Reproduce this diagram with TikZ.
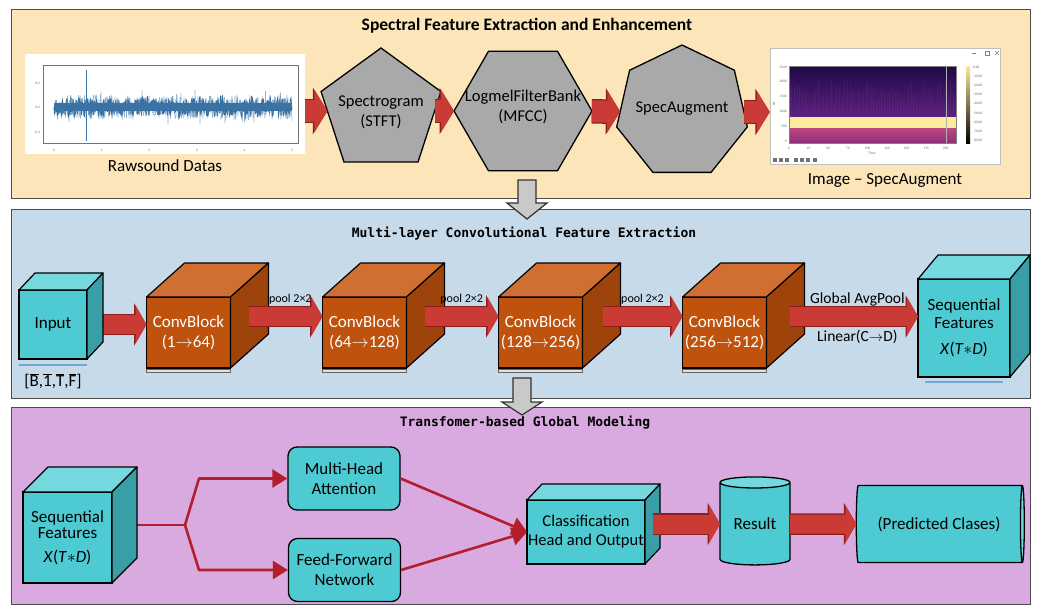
\documentclass[tikz,border=0pt]{standalone}
\usepackage{fontspec}
\setmainfont{Carlito}
\newfontfamily\monofont{DejaVu Sans Mono}
\usetikzlibrary{shapes.geometric,arrows.meta,positioning,calc}

\definecolor{panelA}{HTML}{FBE5B9}
\definecolor{panelB}{HTML}{C6DAE9}
\definecolor{panelC}{HTML}{D9AADF}
\definecolor{polygray}{HTML}{A9A9A9}
\definecolor{cyanF}{HTML}{4ECAD3}
\definecolor{cyanT}{HTML}{76D8DF}
\definecolor{cyanS}{HTML}{3A9EA7}
\definecolor{orangeF}{HTML}{BF520D}
\definecolor{orangeT}{HTML}{D06F31}
\definecolor{orangeS}{HTML}{9E440B}
\definecolor{fatred}{HTML}{C93B34}
\definecolor{fatredD}{HTML}{8F1D1D}
\definecolor{linered}{HTML}{B31E2C}
\definecolor{wavecol}{HTML}{3A72A4}
\definecolor{wavelight}{HTML}{8FB4D4}
\definecolor{lineblue}{HTML}{6FA8D6}
\definecolor{downgray}{HTML}{C9C9C9}
\definecolor{specTop}{HTML}{1E0A45}
\definecolor{specMid}{HTML}{5E2082}
\definecolor{specYellow}{HTML}{FCEB9D}
\definecolor{specLowA}{HTML}{BC4884}
\definecolor{specLowB}{HTML}{8E2E77}

% side and top faces of a box drawn behind a front-face node
\newcommand{\boxdepth}[5]{%
  \draw[line width=1.2pt, fill=#4, line join=round] (#1.north west) -- ++(#2,-#3) -- ($(#1.north east)+(#2,-#3)$) -- (#1.north east) -- cycle;
  \draw[line width=1.2pt, fill=#5, line join=round] (#1.north east) -- ++(#2,-#3) -- ($(#1.south east)+(#2,-#3)$) -- (#1.south east) -- cycle;
}
\newcommand{\ovl}[1]{$\overline{\mbox{#1}}$}

\begin{document}
\begin{tikzpicture}[x=1pt, y=-1pt,
    every node/.style={align=center},
    panel/.style={draw=black!70, line width=1pt, inner sep=0pt, outer sep=0pt},
    maintitle/.style={font=\bfseries\fontsize{17.5}{19}\selectfont, inner sep=0pt},
    paneltitle/.style={font=\monofont\bfseries\fontsize{13}{15}\selectfont, inner sep=0pt},
    nodetext/.style={font=\fontsize{17}{20}\selectfont, inner sep=0pt},
    poly/.style={regular polygon, draw, line width=1.3pt, fill=polygray, inner sep=0pt, outer sep=0pt},
    polytext/.style={font=\fontsize{16.5}{20}\selectfont, inner sep=0pt, align=center},
    cubeface/.style={draw, line width=1.2pt, inner sep=0pt, outer sep=0pt, fill=cyanF, font=\fontsize{17}{20}\selectfont},
    convface/.style={cubeface, fill=orangeF, text=white, minimum width=84, minimum height=71},
    softbox/.style={draw, line width=1.3pt, rounded corners=9pt, fill=cyanF, minimum width=112, minimum height=63, inner sep=0pt, font=\fontsize{17}{20}\selectfont},
    cyl/.style={cylinder, draw, line width=1.3pt, cylinder uses custom fill, cylinder body fill=cyanF, cylinder end fill=cyanT, inner sep=0pt, outer sep=0pt, font=\fontsize{17}{20}\selectfont},
    fatarrowA/.style={draw=fatred, line width=22pt, -{Triangle[length=13pt,width=42pt]},
      preaction={draw=fatredD, line width=24.5pt, -{Triangle[length=14.5pt,width=46pt]}}},
    fatarrowB/.style={draw=fatred, line width=19pt, -{Triangle[length=11pt,width=38pt]},
      preaction={draw=fatredD, line width=21.5pt, -{Triangle[length=12.5pt,width=42pt]}}},
    poollbl/.style={font=\fontsize{12}{14}\selectfont, inner sep=1pt},
    arrowlbl/.style={font=\fontsize{15.5}{17}\selectfont, inner sep=1pt},
    thinred/.style={draw=linered, line width=2.6pt, line join=round},
    redtip/.style={-{Triangle[length=15pt,width=18pt]}},
    underline/.style={draw=lineblue, line width=1.3pt},
    downarrow/.style={draw=black!80, line width=1.2pt, fill=downgray},
    tinytxt/.style={font=\fontsize{3.5}{4}\selectfont, inner sep=0pt, text=black!60}
  ]
\useasboundingbox (0,0) rectangle (1038,613);
\fill[white] (0,0) rectangle (1038,613);

% panels
\node[panel, fill=panelA, minimum width=1019, minimum height=189] (p1) at (520.5,103.5) {};
\node[panel, fill=panelB, minimum width=1019, minimum height=189] (p2) at (520.5,303.5) {};
\node[panel, fill=panelC, minimum width=1019, minimum height=197] (p3) at (520.5,505.5) {};
\node[maintitle] (t1) at (527,26) {Spectral Feature Extraction and Enhancement};
\node[paneltitle] (t2) at (524,234) {Multi-layer Convolutional Feature Extraction};
\node[paneltitle] (t3) at (525,423) {Transfomer-based Global Modeling};

% raw waveform plot
\node[fill=white, minimum width=280, minimum height=100, inner sep=0pt] (wave) at (165,104) {};
\draw[black!55, line width=0.4pt] (43,65) rectangle (298,143);
\pgfmathsetseed{11}
\draw[wavelight, line width=0.6pt] (54,107) \foreach \i in {1,...,476}{ -- ({54+\i*0.5},{107+rand*(12+6*(rand>0.75))}) };
\fill[wavecol] (54,103) rectangle (292,111);
\draw[wavecol, line width=0.9pt] (54,107) \foreach \i in {1,...,476}{ -- ({54+\i*0.5},{107+rand*(9+3*(rand>0.6))}) };
\draw[wavecol, line width=0.9pt] (86,70) -- (86,141);
\foreach \k in {0,...,5} \node[tinytxt] at ({54+\k*47.6},150) {\k};
\node[tinytxt, anchor=east] at (40,83) {0.2};
\node[tinytxt, anchor=east] at (40,107) {0.0};
\node[tinytxt, anchor=east] at (40,132) {-0.2};
\node[nodetext, below=5pt of wave] (wavelbl) {Rawsound Datas};

% feature stages
\node[poly, regular polygon sides=5, minimum size=126,
  label={[polytext, yshift=-1pt]center:{Spectrogram\\(STFT)}}] (stft) at (381,111) {};
\node[poly, regular polygon sides=6, minimum size=138,
  label={[polytext, yshift=4pt]center:{LogmelFilterBank\\(MFCC)}}] (mfcc) at (523,111) {};
\node[poly, regular polygon sides=7, minimum size=134,
  label={[polytext, yshift=3pt]center:{SpecAugment}}] (specaug) at (682,112) {};

% spectrogram screenshot
\node[fill=white, draw=black!25, line width=0.5pt, minimum width=230, minimum height=116, inner sep=0pt] (augimg) at (885,106) {};
\draw[black!50, line width=0.4pt] (972,53) -- (976,53);
\draw[black!50, line width=0.4pt] (985,51) rectangle (989,55);
\draw[black!50, line width=0.4pt] (995,51) -- (999,55) (995,55) -- (999,51);
\shade[top color=specTop, bottom color=specMid] (789,66) rectangle (956,117);
\foreach \k in {1,...,62} \draw[specMid!85!white, line width=0.7pt, opacity=0.18] ({789+\k*2.65},{92+rand*14}) -- ({789+\k*2.65},117);
\fill[specYellow] (789,117) rectangle (956,128);
\shade[top color=specLowA, bottom color=specLowB] (789,128) rectangle (956,143);
\draw[black!30, line width=1pt] (946,66) -- (946,143);
\draw[black!50, line width=0.3pt] (789,66) rectangle (956,143);
\shade[top color=specYellow, middle color=specLowA, bottom color=black] (966,66) rectangle (970,143);
\foreach \lbl [count=\n from 0] in {2500,2000,1500,1000,500,0}
  \node[tinytxt, anchor=east] at (787,{67+\n*14.8}) {\lbl};
\foreach \lbl [count=\n from 0] in {0,25,50,75,100,125,150,175,200}
  \node[tinytxt] at ({789+\n*19.6},148) {\lbl};
\foreach \lbl [count=\n from 0] in {0.00,-10.00,-20.00,-30.00,-40.00,-50.00,-60.00,-70.00,-80.00}
  \node[tinytxt, anchor=west] at (973,{67+\n*9.2}) {\lbl};
\node[tinytxt] at (872,153) {Time};
\node[tinytxt, rotate=90] at (774,104) {Hz};
\foreach \tx in {775,781,787,796,802,808,815} \fill[black!55] (\tx-2,158) rectangle (\tx+2,162);
\node[nodetext, below=9pt of augimg] (auglbl) {Image -- SpecAugment};

\draw[fatarrowA] (wave.east |- stft) -- (stft);
\draw[fatarrowA] (stft) -- (mfcc);
\draw[fatarrowA] (mfcc) -- (specaug);
\draw[fatarrowA] (specaug) -- (augimg.west |- specaug);

% convolutional stack
\node[cubeface, minimum width=68, minimum height=69] (input) at (53,324.5) {Input};
\node[convface] (cb1) at (188.5,332.5) {ConvBlock\\(1$\to$64)};
\node[convface, right=92pt of cb1] (cb2) {ConvBlock\\(64$\to$128)};
\node[convface, right=92pt of cb2] (cb3) {ConvBlock\\(128$\to$256)};
\node[convface, right=100pt of cb3] (cb4) {ConvBlock\\(256$\to$512)};
\node[cubeface, minimum width=92, minimum height=98, font=\fontsize{17}{18}\selectfont] (seqA) at (964,328)
  {Sequential\\Features\\[8pt]\textit{X}(\textit{T}$\ast$\textit{D})};

\draw[fatarrowB] (input.east) -- (input.east -| cb1.west);
\boxdepth{input}{16}{17}{cyanT}{cyanS}
\foreach \c in {cb1,cb2,cb3,cb4}{
  \boxdepth{\c}{38}{34}{orangeT}{orangeS}
  \draw[black!60, line width=0.6pt, fill=black!12] ([yshift=-1pt]\c.south west) rectangle ([yshift=-4pt]\c.south east);
}
\boxdepth{seqA}{20}{24}{cyanT}{cyanS}

\draw[fatarrowB, shorten <=18pt] ([yshift=16pt]cb1.east) -- node[poollbl, pos=0.65, above=2pt] {pool 2×2} ([yshift=16pt]cb2.west);
\draw[fatarrowB, shorten <=18pt] ([yshift=16pt]cb2.east) -- node[poollbl, pos=0.6, above=2pt] {pool 2×2} ([yshift=16pt]cb3.west);
\draw[fatarrowB, shorten <=20pt] ([yshift=16pt]cb3.east) -- node[poollbl, pos=0.6, above=2pt] {pool 2×2} ([yshift=16pt]cb4.west);
\draw[fatarrowB, shorten <=23pt] ([yshift=16pt]cb4.east) --
  node[arrowlbl, pos=0.6, above=0pt] {Global AvgPool}
  node[arrowlbl, pos=0.6, below=3pt] {Linear(C$\to$D)} ([yshift=16pt]cb4.east -| seqA.west);

\draw[underline] ([yshift=-6pt]input.south west) -- ([yshift=-6pt]input.south east);
\node[nodetext, below=14pt of input] (shape) {[\ovl{B},\ovl{1},\ovl{T},\ovl{F}]};
\draw[underline] ([xshift=7pt,yshift=-5pt]seqA.south west) -- ([xshift=-7pt,yshift=-5pt]seqA.south east);

% transformer part
\node[cubeface, minimum width=89, minimum height=91, font=\fontsize{17}{16.5}\selectfont] (seqB) at (67.5,537.5)
  {Sequential\\Features\\[7pt]\textit{X}(\textit{T}$\ast$\textit{D})};
\node[softbox] (mha) at (344,478.5) {Multi-Head\\Attention};
\node[softbox] (ffn) at (344.5,570) {Feed-Forward\\Network};
\node[cubeface, minimum width=118, minimum height=64, font=\fontsize{16.5}{19}\selectfont] (cls) at (586,532) {Classification\\Head and Output};
\node[cyl, shape border rotate=90, aspect=0.26, minimum width=70, minimum height=88] (result) at (755,524) {Result};
\node[cyl, aspect=0.26, minimum width=77, minimum height=168] (predict) at (939,524) {(Predicted Clases)};

\coordinate (split) at (185,525);
\coordinate (upbend) at (199,478.5);
\coordinate (lowbend) at (199,570);
\draw[thinred] (seqB.east |- split) -- (split);
\draw[thinred, redtip] (split) -- (upbend) -- (mha.west);
\draw[thinred, redtip] (split) -- (lowbend) -- (ffn.west);
\draw[thinred, redtip] (mha.east) -- (cls.west);
\draw[thinred, redtip] (ffn.east) -- (cls.west);
\boxdepth{seqB}{25}{25}{cyanT}{cyanS}
\boxdepth{cls}{15}{16}{cyanT}{cyanS}

\draw[fatarrowB, shorten <=8pt] (cls.east |- result) -- (result);
\draw[fatarrowB] (result) -- (predict);

% stage-to-stage arrows
\draw[downarrow] (518,180) -- (536,180) -- (536,203) -- (547,203) -- (527,219) -- (507,203) -- (518,203) -- cycle;
\draw[downarrow] (513,378) -- (531,378) -- (531,402) -- (542,402) -- (522,415) -- (502,402) -- (513,402) -- cycle;
\end{tikzpicture}
\end{document}
